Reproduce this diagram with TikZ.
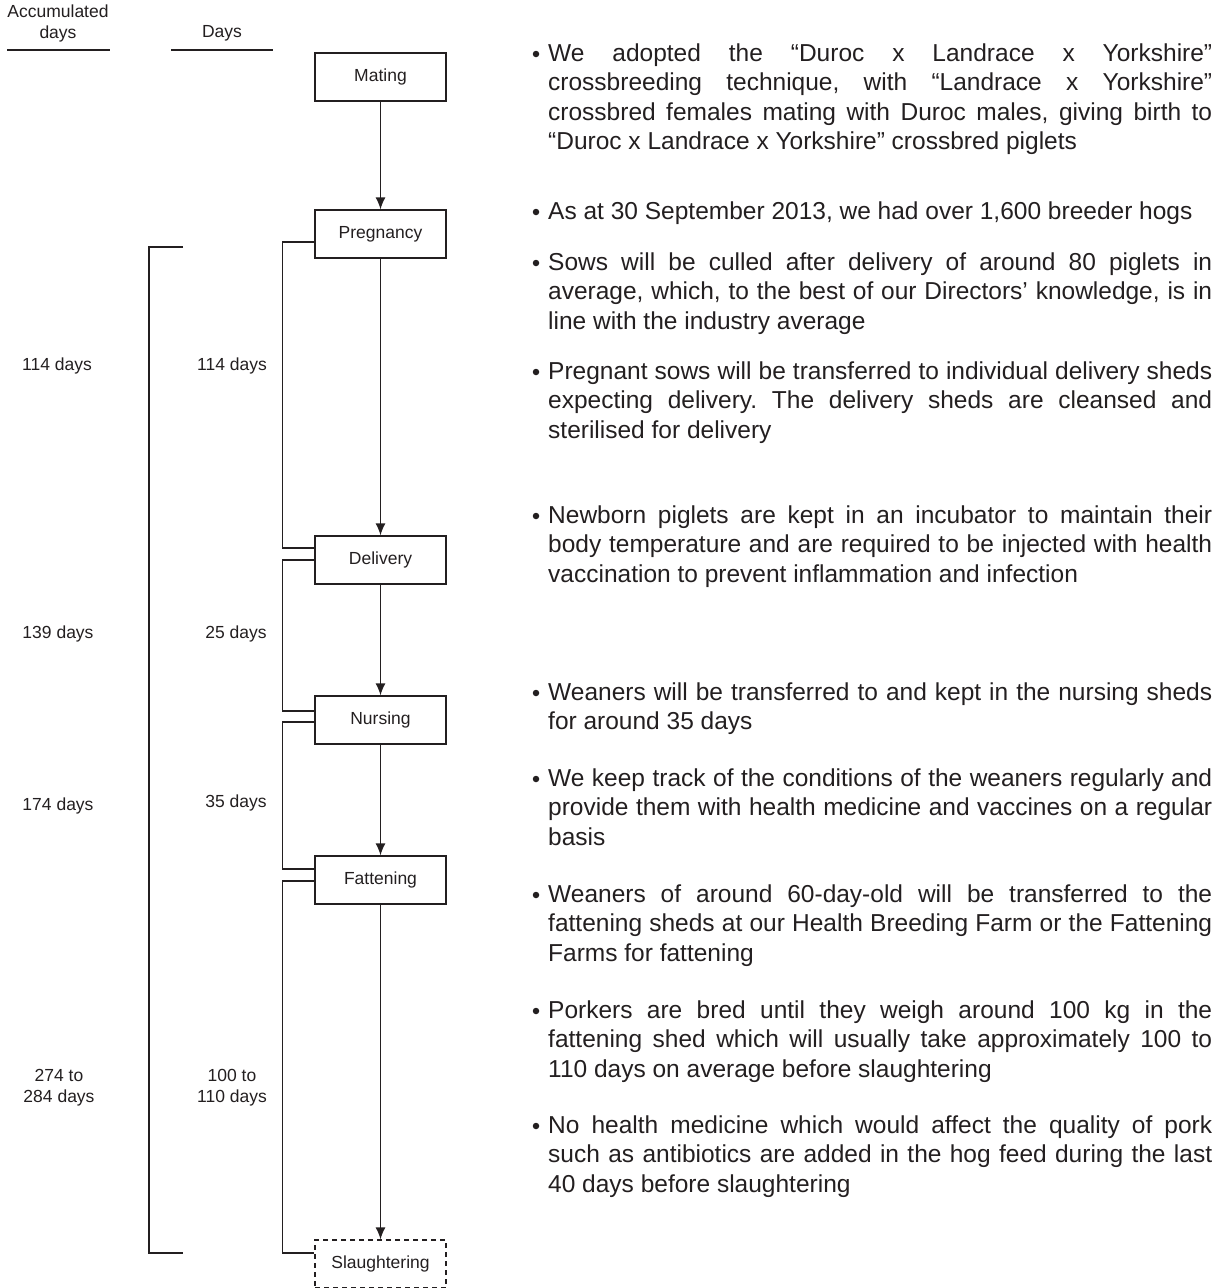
\documentclass[tikz,border=0pt]{standalone}
\usepackage{fontspec}
\setmainfont{Liberation Sans}
\usetikzlibrary{arrows.meta}
\definecolor{ink}{HTML}{231F20}
\newlength{\bw}\setlength{\bw}{664pt}
% one fully justified line of a bullet paragraph (natural, stretchable spaces)
\newcommand{\jl}[1]{{\spaceskip=0pt\xspaceskip=0pt\makebox[\bw][s]{#1}}}
% a line set with the font's own word spacing
\newcommand{\lastln}[1]{{\spaceskip=0pt\xspaceskip=0pt#1}}
\begin{document}
\begin{tikzpicture}[x=1pt,y=-1pt,
  stage/.style={draw=ink, line width=1.3pt, minimum width=131pt, minimum height=48pt,
                inner sep=0pt, font=\fontsize{17.5}{21}\selectfont, text=ink},
  lbl/.style={font=\fontsize{17.5}{21}\selectfont, text=ink, align=center, inner sep=0pt},
  flowarrow/.style={draw=ink, line width=1.3pt, -{Latex[length=12pt,width=10pt]}},
  brk/.style={draw=ink, line width=1.3pt},
  note/.style={font=\fontsize{24.5}{29.5}\selectfont\frenchspacing, text=ink, text width=664pt,
               align=left, inner sep=0pt, anchor=base west},
  bul/.style={circle, fill=ink, inner sep=0pt, minimum size=6.5pt}]
\useasboundingbox (0,0) rectangle (1224,1288);

% column headings
\node[lbl] (hacc) at (58,23) {Accumulated\\days};
\node[lbl] (hday) at (222,33) {Days};
\draw[brk] (7,50) -- (110,50);
\draw[brk] (171,50) -- (273,50);

% production stages
\node[stage] (mat) at (380.5,77) {Mating};
\node[stage] (prg) at (380.5,234) {Pregnancy};
\node[stage] (dlv) at (380.5,560) {Delivery};
\node[stage] (nrs) at (380.5,720) {Nursing};
\node[stage] (fat) at (380.5,880) {Fattening};
\node[stage, dash pattern=on 5pt off 4pt] (slt) at (380.5,1264) {Slaughtering};

\draw[flowarrow] (mat) -- (prg);
\draw[flowarrow] (prg) -- (dlv);
\draw[flowarrow] (dlv) -- (nrs);
\draw[flowarrow] (nrs) -- (fat);
\draw[flowarrow] (fat) -- (slt);

% per-stage duration brackets
\draw[brk] ([yshift=-8pt]prg.west) -- ++(-32,0) |- ([yshift=12pt]dlv.west);
\draw[brk] (dlv.west) -- ++(-32,0) |- ([yshift=9pt]nrs.west);
\draw[brk] ([yshift=-2pt]nrs.west) -- ++(-32,0) |- ([yshift=11pt]fat.west);
\draw[brk] ([yshift=-1pt]fat.west) -- ++(-32,0) |- ([yshift=11pt]slt.west);

% accumulated bracket
\coordinate (ot) at (183,247);
\coordinate (ob) at (183,1253);
\draw[brk] (ot) -- ++(-34,0) |- (ob);

% durations
\node[lbl] (a1) at (57,366) {114 days};
\node[lbl] (r1) at (232,366) {114 days};
\node[lbl] (a2) at (58,634) {139 days};
\node[lbl] (r2) at (236,634) {25 days};
\node[lbl] (a3) at (58,806) {174 days};
\node[lbl] (r3) at (236,803) {35 days};
\node[lbl] (a4) at (59,1088) {274 to\\284 days};
\node[lbl] (r4) at (232,1088) {100 to\\110 days};

% description bullets
\node[bul] (d1) at (536,54) {};
\node[note] (n1) at (548,61) {\jl{We adopted the “Duroc x Landrace x Yorkshire”}\\
\jl{crossbreeding technique, with “Landrace x Yorkshire”}\\
\jl{crossbred females mating with Duroc males, giving birth to}\\
\lastln{“Duroc x Landrace x Yorkshire” crossbred piglets}};

\node[bul] (d2) at (536,212) {};
\node[note] (n2) at (548,219) {\lastln{As at 30 September 2013, we had over 1,600 breeder hogs}};

\node[bul] (d3) at (536,263) {};
\node[note] (n3) at (548,270) {\jl{Sows will be culled after delivery of around 80 piglets in}\\
\jl{average, which, to the best of our Directors’ knowledge, is in}\\
\lastln{line with the industry average}};

\node[bul] (d4) at (536,372) {};
\node[note] (n4) at (548,379) {\jl{Pregnant sows will be transferred to individual delivery sheds}\\
\jl{expecting delivery. The delivery sheds are cleansed and}\\
\lastln{sterilised for delivery}};

\node[bul] (d5) at (536,516) {};
\node[note] (n5) at (548,523) {\jl{Newborn piglets are kept in an incubator to maintain their}\\
\jl{body temperature and are required to be injected with health}\\
\lastln{vaccination to prevent inflammation and infection}};

\node[bul] (d6) at (536,693) {};
\node[note] (n6) at (548,700) {\jl{Weaners will be transferred to and kept in the nursing sheds}\\
\lastln{for around 35 days}};

\node[bul] (d7) at (536,779) {};
\node[note] (n7) at (548,786) {\jl{We keep track of the conditions of the weaners regularly and}\\
\jl{provide them with health medicine and vaccines on a regular}\\
\lastln{basis}};

\node[bul] (d8) at (536,895) {};
\node[note] (n8) at (548,902) {\jl{Weaners of around 60-day-old will be transferred to the}\\
\jl{fattening sheds at our Health Breeding Farm or the Fattening}\\
\lastln{Farms for fattening}};

\node[bul] (d9) at (536,1011) {};
\node[note] (n9) at (548,1018) {\jl{Porkers are bred until they weigh around 100 kg in the}\\
\jl{fattening shed which will usually take approximately 100 to}\\
\lastln{110 days on average before slaughtering}};

\node[bul] (d10) at (536,1126) {};
\node[note] (n10) at (548,1133) {\jl{No health medicine which would affect the quality of pork}\\
\jl{such as antibiotics are added in the hog feed during the last}\\
\lastln{40 days before slaughtering}};
\end{tikzpicture}
\end{document}
